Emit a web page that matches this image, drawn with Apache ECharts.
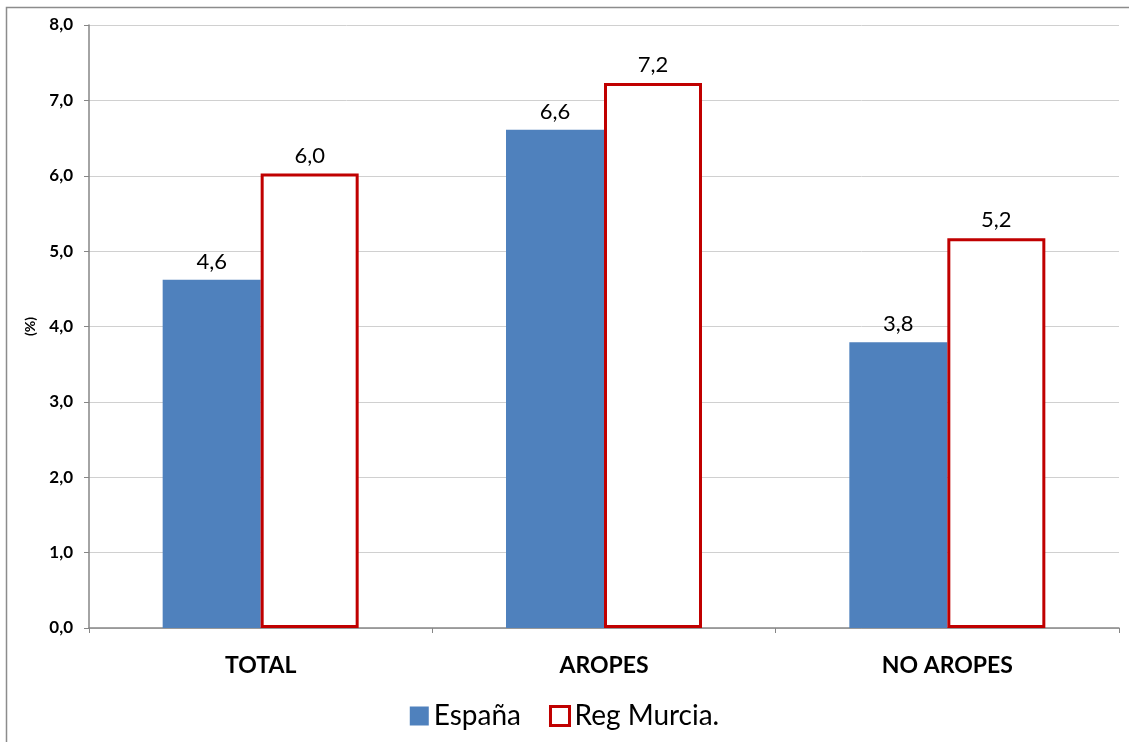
<!DOCTYPE html>
<html><head><meta charset="utf-8">
<script src="https://cdn.jsdelivr.net/npm/echarts@6/dist/echarts.min.js"></script>
<style>html,body{margin:0;padding:0;background:#fff}#c{width:1129px;height:742px}</style>
</head><body><div id="c"></div>
<script>
const categories = ['TOTAL', 'AROPES', 'NO AROPES'];
const espana = [4.62, 6.61, 3.79];
const murcia = [6.03, 7.23, 5.17];
const yTicks = [0, 1, 2, 3, 4, 5, 6, 7, 8];
const fmt = v => v.toFixed(1).replace('.', ',');
const FONT = 'Lato, "Open Sans", sans-serif';
const chart = echarts.init(document.getElementById('c'), null, {renderer: 'canvas'});
chart.setOption({
  animation: false,
  graphic: [{type: 'rect', shape: {x: 6.5, y: 7.5, width: 1140, height: 740}, style: {fill: 'none', stroke: '#8c8c8c', lineWidth: 1.5}, silent: true}],
  grid: {left: 89, right: 10, top: 25, bottom: 114},
  legend: {
    top: 697, left: 'center', itemWidth: 19, itemHeight: 19, itemGap: 28,
    textStyle: {fontFamily: FONT, fontSize: 28, color: '#000'},
    data: [{name: 'España', icon: 'rect'}, {name: 'Reg Murcia.', icon: 'rect', itemStyle: {color: '#fff', borderColor: '#C00000', borderWidth: 3}}]
  },
  xAxis: {
    type: 'category', data: categories,
    axisLine: {lineStyle: {color: '#868686', width: 1.5}},
    axisTick: {show: true, length: 5, lineStyle: {color: '#868686'}},
    axisLabel: {fontFamily: FONT, fontWeight: 'bold', fontSize: 23, color: '#000', margin: 26}
  },
  yAxis: {
    type: 'value', min: 0, max: 8, interval: 1,
    name: '(%)', nameLocation: 'middle', nameGap: 52, nameRotate: 90,
    nameTextStyle: {fontFamily: FONT, fontWeight: 'bold', fontSize: 14, color: '#000'},
    axisLine: {show: true, lineStyle: {color: '#868686', width: 1.5}},
    axisTick: {show: true, length: 5, lineStyle: {color: '#868686'}},
    splitLine: {lineStyle: {color: '#d0d0d0', width: 1}},
    axisLabel: {fontFamily: FONT, fontWeight: 'bold', fontSize: 17, color: '#000', margin: 16, formatter: v => fmt(v)}
  },
  series: [
    {name: 'España', type: 'bar', data: espana, barWidth: 98, barGap: '0%',
     itemStyle: {color: '#4F81BD'},
     label: {show: true, position: 'top', distance: 7, fontFamily: FONT, fontSize: 22, color: '#000', formatter: p => fmt(p.value)}},
    {name: 'Reg Murcia.', type: 'bar', data: murcia, barWidth: 98,
     itemStyle: {color: '#fff', borderColor: '#C00000', borderWidth: 3},
     label: {show: true, position: 'top', distance: 7, fontFamily: FONT, fontSize: 22, color: '#000', formatter: p => fmt(p.value)}}
  ]
});
</script></body></html>
